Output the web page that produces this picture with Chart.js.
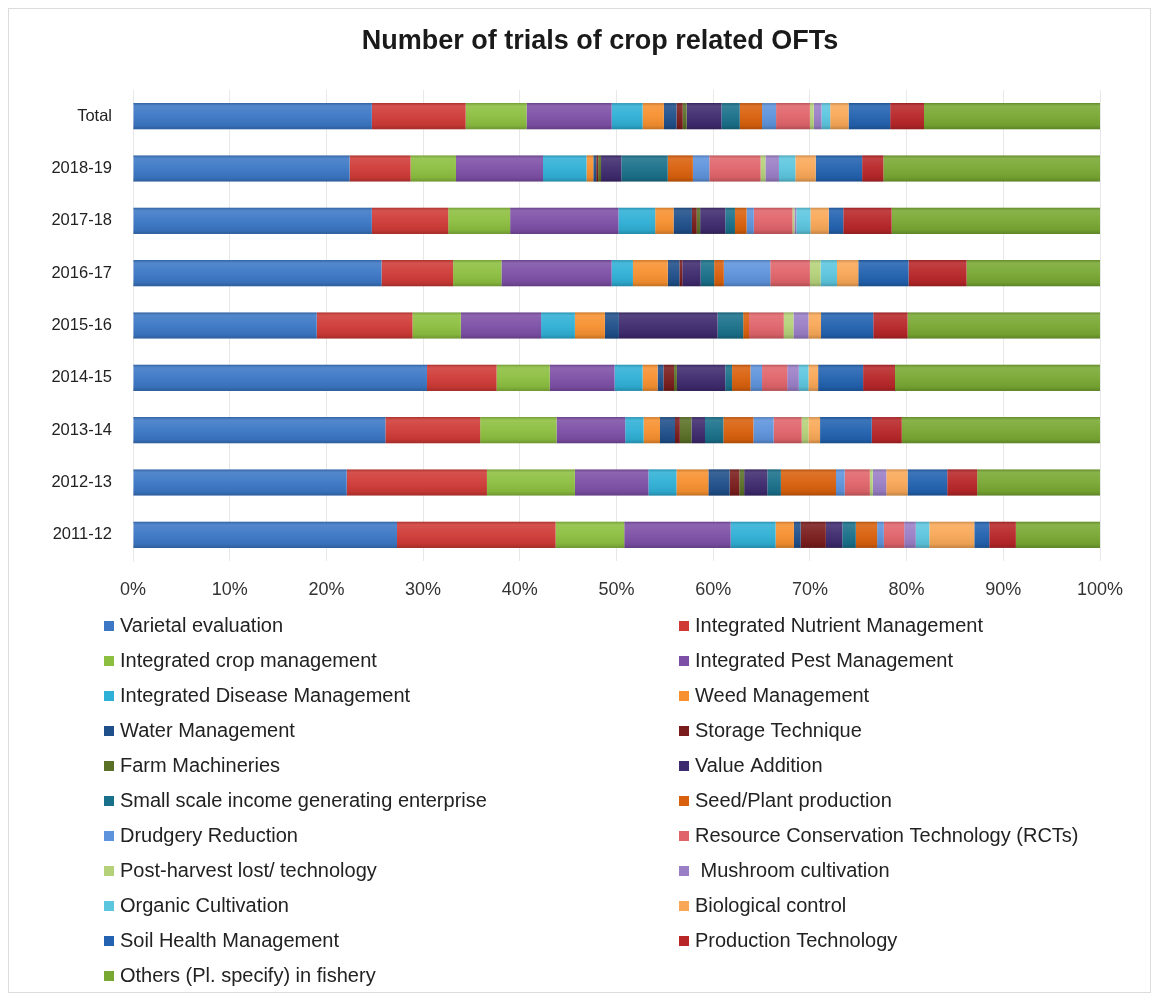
<!DOCTYPE html>
<html>
<head>
<meta charset="utf-8">
<title>Number of trials of crop related OFTs</title>
<script src="https://cdn.jsdelivr.net/npm/chart.js@4.4.1/dist/chart.umd.min.js"></script>
<style>
  body { margin: 0; background: #fff; }
  #wrap { position: relative; width: 1155px; height: 999px; }
  #frame { position: absolute; left: 8px; top: 8px; width: 1141px; height: 983px; border: 1px solid #dcdcdc; pointer-events: none; }
  canvas { display: block; }
</style>
</head>
<body>
<div id="wrap">
  <canvas id="oftChart" width="1155" height="999"></canvas>
  <div id="frame"></div>
</div>
<script>
// rows, top to bottom
const years = ['Total', '2018-19', '2017-18', '2016-17', '2015-16', '2014-15', '2013-14', '2012-13', '2011-12'];

const xTicks = [0, 10, 20, 30, 40, 50, 60, 70, 80, 90, 100];

// share of trials (%) per technology, same order as years
const varietal    = [24.7, 22.4, 24.7, 25.7, 19.0, 30.4, 26.1, 22.1, 27.3];
const inm         = [9.7, 6.3, 7.9, 7.4, 9.9, 7.2, 9.8, 14.5, 16.4];
const icm         = [6.3, 4.7, 6.4, 5.0, 5.0, 5.5, 7.9, 9.1, 7.1];
const ipm         = [8.8, 9.0, 11.2, 11.4, 8.3, 6.7, 7.1, 7.6, 11.0];
const idm         = [3.2, 4.5, 3.8, 2.2, 3.5, 2.9, 1.9, 2.9, 4.65];
const weed        = [2.2, 0.7, 1.9, 3.6, 3.1, 1.55, 1.7, 3.3, 1.9];
const water       = [1.3, 0.3, 1.9, 1.2, 1.45, 0.6, 1.55, 2.2, 0.7];
const storage     = [0.65, 0.2, 0.5, 0.3, 0, 1.1, 0.5, 1.0, 2.6];
const farmMach    = [0.4, 0.3, 0.35, 0, 0, 0.3, 1.2, 0.5, 0];
const valueAdd    = [3.6, 2.1, 2.6, 1.9, 10.2, 5.0, 1.4, 2.4, 1.7];
const smallScale  = [1.9, 4.8, 1.0, 1.4, 2.65, 0.7, 1.9, 1.4, 1.4];
const seedPlant   = [2.3, 2.6, 1.2, 1.0, 0.6, 1.9, 3.1, 5.7, 2.2];
const drudgery    = [1.45, 1.7, 0.75, 4.8, 0, 1.2, 2.1, 0.9, 0.7];
const rcts        = [3.5, 5.3, 4.0, 4.1, 3.6, 2.6, 2.9, 2.6, 2.1];
const postHarvest = [0.4, 0.5, 0.2, 1.1, 1.0, 0, 0.7, 0.3, 0];
const mushroom    = [0.8, 1.4, 0.2, 0, 1.55, 1.2, 0, 1.4, 1.2];
const organic     = [0.9, 1.7, 1.45, 1.7, 0, 1.0, 0, 0, 1.4];
const biocontrol  = [1.9, 2.1, 1.9, 2.2, 1.3, 1.0, 1.2, 2.2, 4.65];
const soilHealth  = [4.3, 4.8, 1.5, 5.2, 5.4, 4.65, 5.35, 4.1, 1.55];
const prodTech    = [3.5, 2.2, 5.0, 6.0, 3.55, 3.3, 3.1, 3.1, 2.75];
const others      = [18.2, 22.4, 21.55, 13.8, 19.9, 21.2, 20.5, 12.7, 8.7];

const seriesNames = [
  'Varietal evaluation', 'Integrated Nutrient Management',
  'Integrated crop management', 'Integrated Pest Management',
  'Integrated Disease Management', 'Weed Management',
  'Water Management', 'Storage Technique',
  'Farm Machineries', 'Value Addition',
  'Small scale income generating enterprise', 'Seed/Plant production',
  'Drudgery Reduction', 'Resource Conservation Technology (RCTs)',
  'Post-harvest lost/ technology', ' Mushroom cultivation',
  'Organic Cultivation', 'Biological control',
  'Soil Health Management', 'Production Technology',
  'Others (Pl. specify) in fishery'
];

const seriesColors = [
  '#3b77c5', '#cf3a36', '#8cbf3f', '#7d4fa6', '#2fb0d6', '#f7902f',
  '#1f4f8a', '#7a1c1c', '#5a7026', '#3e2a6e', '#19708a', '#d9600c',
  '#5d93dc', '#e0646a', '#b5d27a', '#9a7ec6', '#5cc6df', '#f9a857',
  '#2262b0', '#b82628', '#78a832'
];

const seriesValues = [varietal, inm, icm, ipm, idm, weed, water, storage, farmMach,
  valueAdd, smallScale, seedPlant, drudgery, rcts, postHarvest, mushroom, organic,
  biocontrol, soilHealth, prodTech, others];

const chartTitle = 'Number of trials of crop related OFTs';

const FONT = "'Liberation Sans', Arial, sans-serif";

const datasets = seriesValues.map((vals, i) => ({
  label: seriesNames[i],
  data: vals,
  backgroundColor: seriesColors[i],
  borderWidth: 0,
  categoryPercentage: 1,
  barPercentage: 0.5
}));

// soft cylinder shading over each whole bar
const barShade = {
  id: 'barShade',
  afterDatasetsDraw(chart) {
    const ctx = chart.ctx;
    const first = chart.getDatasetMeta(0);
    const xs = chart.scales.x;
    first.data.forEach(bar => {
      const top = bar.y - bar.height / 2;
      const g = ctx.createLinearGradient(0, top, 0, top + bar.height);
      g.addColorStop(0, 'rgba(0,0,0,0.18)');
      g.addColorStop(0.12, 'rgba(255,255,255,0.12)');
      g.addColorStop(0.45, 'rgba(255,255,255,0.05)');
      g.addColorStop(0.85, 'rgba(0,0,0,0.06)');
      g.addColorStop(1, 'rgba(0,0,0,0.22)');
      ctx.save();
      ctx.fillStyle = g;
      ctx.fillRect(xs.getPixelForValue(0), top, xs.getPixelForValue(100) - xs.getPixelForValue(0), bar.height);
      ctx.restore();
    });
  }
};

// title centred on the page and two-column legend under the axis
const headerAndLegend = {
  id: 'headerAndLegend',
  afterDraw(chart) {
    const ctx = chart.ctx;
    ctx.save();
    ctx.textBaseline = 'middle';
    ctx.textAlign = 'center';
    ctx.fillStyle = '#1a1a1a';
    ctx.font = 'bold 27px ' + FONT;
    ctx.fillText(chartTitle, 600, 42);

    ctx.textAlign = 'left';
    ctx.font = '20px ' + FONT;
    chart.data.datasets.forEach((ds, i) => {
      const col = i % 2;
      const row = Math.floor(i / 2);
      const y = 626 + row * 35;
      const mx = col === 0 ? 104 : 679;
      ctx.fillStyle = ds.backgroundColor;
      ctx.fillRect(mx, y - 5, 10, 10);
      ctx.fillStyle = '#222';
      ctx.fillText(ds.label, mx + 16, y);
    });
    ctx.restore();
  }
};

new Chart(document.getElementById('oftChart'), {
  type: 'bar',
  data: { labels: years, datasets: datasets },
  plugins: [barShade, headerAndLegend],
  options: {
    indexAxis: 'y',
    responsive: false,
    animation: false,
    layout: { padding: { left: 0, right: 55, top: 90, bottom: 388 } },
    plugins: {
      legend: { display: false },
      tooltip: { enabled: false },
      title: { display: false }
    },
    scales: {
      x: {
        stacked: true,
        min: 0,
        max: 100,
        afterBuildTicks: s => { s.ticks = xTicks.map(v => ({ value: v })); },
        afterFit: s => { s.height = 50; },
        grid: { color: '#e8e8e8', drawTicks: false },
        border: { display: false },
        ticks: {
          padding: 18,
          color: '#333',
          font: { family: FONT, size: 18 },
          callback: v => v + '%'
        }
      },
      y: {
        stacked: true,
        afterFit: s => { s.width = 133; },
        grid: { display: false },
        border: { color: '#e8e8e8' },
        ticks: {
          padding: 13,
          color: '#222',
          font: { family: FONT, size: 16.5 }
        }
      }
    }
  }
});
</script>
</body>
</html>
